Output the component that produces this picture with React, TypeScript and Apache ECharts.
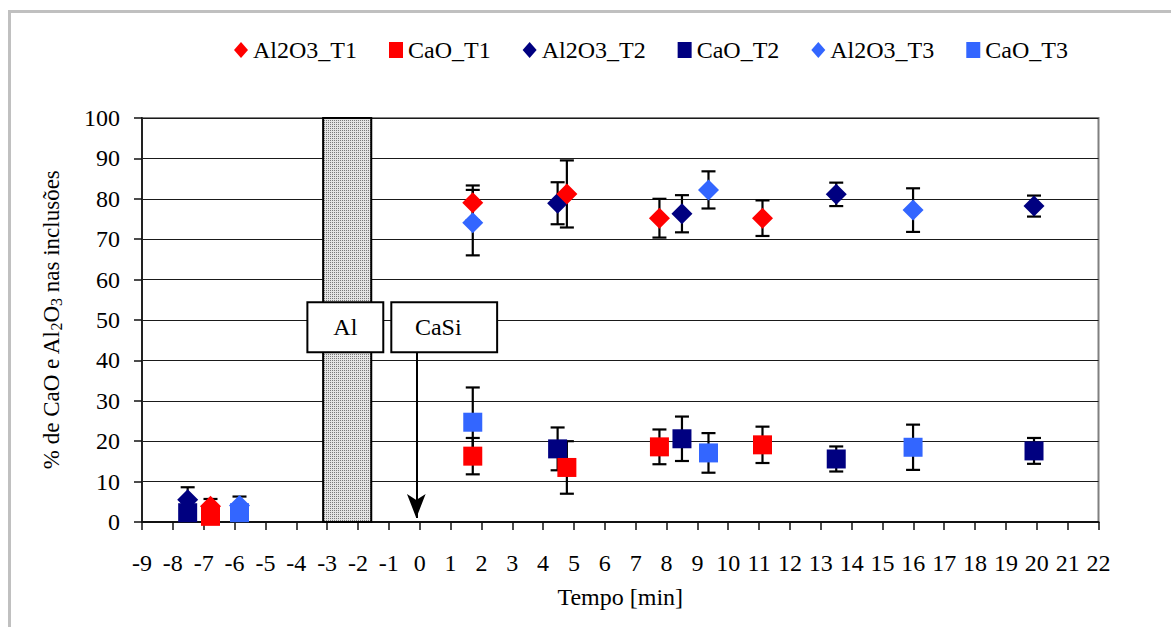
import React, { useEffect, useRef } from 'react';
import * as echarts from 'echarts';

// ---- data ----
const xT1 = [-6.78, 1.72, 4.77, 7.77, 11.11];
const al2o3T1 = [3.9, 79.0, 81.2, 75.2, 75.2];
const al2o3T1Err = [1.8, 4.3, 8.3, 4.8, 4.4];
const caoT1 = [1.4, 16.3, 13.5, 18.6, 19.1];
const caoT1Err = [1.0, 4.5, 6.5, 4.3, 4.5];

const xT2 = [-7.52, 4.47, 8.5, 13.5, 19.91];
const al2o3T2 = [5.5, 78.9, 76.3, 81.1, 78.2];
const al2o3T2Err = [3.1, 5.2, 4.6, 2.9, 2.6];
const caoT2 = [2.3, 18.1, 20.6, 15.6, 17.6];
const caoT2Err = [1.5, 5.3, 5.5, 3.1, 3.2];

const xT3 = [-5.84, 1.72, 9.36, 15.99];
const al2o3T3 = [4.1, 74.1, 82.2, 77.2];
const al2o3T3Err = [2.2, 8.1, 4.6, 5.4];
const caoT3 = [2.3, 24.7, 17.1, 18.5];
const caoT3Err = [1.5, 8.6, 4.9, 5.6];

// annotations (data coordinates)
const alBarX = [-3.13, -1.57];
const alBoxX = [-3.64, -1.18];
const casiBoxX = [-0.92, 2.51];
const boxY = [42.0, 54.4];
const arrowX = -0.11;
const arrowY = [42.0, 1.0];

const FONT = "'Liberation Serif', 'Times New Roman', serif";
const FS = 24;
const RED = '#FF0000';
const NAVY = '#000080';
const BLUE = '#3366FF';

export default function App() {
  const ref = useRef<HTMLDivElement>(null);

  useEffect(() => {
    const chart = echarts.init(ref.current!, null, { renderer: 'svg' });

    const tile = document.createElement('canvas');
    tile.width = 2;
    tile.height = 2;
    const g = tile.getContext('2d')!;
    g.fillStyle = '#e4e4e4';
    g.fillRect(0, 0, 2, 2);
    g.fillStyle = '#7a7a7a';
    g.fillRect(0, 0, 1, 1);

    const pts = (xs: number[], ys: number[]) => xs.map((x, i) => [x, ys[i]]);
    const errs = (xs: number[], ys: number[], es: number[]) =>
      xs.map((x, i) => [x, ys[i] - es[i], ys[i] + es[i]]);

    const errData = [
      ...errs(xT1, al2o3T1, al2o3T1Err),
      ...errs(xT1, caoT1, caoT1Err),
      ...errs(xT2, al2o3T2, al2o3T2Err),
      ...errs(xT2, caoT2, caoT2Err),
      ...errs(xT3, al2o3T3, al2o3T3Err),
      ...errs(xT3, caoT3, caoT3Err),
    ];

    const scatter = (name: string, xs: number[], ys: number[], color: string, diamond: boolean, z: number) => ({
      name,
      type: 'scatter',
      data: pts(xs, ys),
      symbol: diamond ? 'diamond' : 'rect',
      symbolSize: diamond ? 21 : 19,
      itemStyle: { color, opacity: 1 },
      z,
      clip: false,
    });

    const option: any = {
      animation: false,
      backgroundColor: '#ffffff',
      textStyle: { fontFamily: FONT, color: '#000' },
      graphic: [
        {
          type: 'rect',
          silent: true,
          z: -10,
          shape: { x: 9.5, y: 11.5, width: 1300, height: 800 },
          style: { fill: 'none', stroke: '#c0c0c0', lineWidth: 3 },
        },
      ],
      legend: {
        left: 229,
        top: 33,
        itemWidth: 14,
        itemHeight: 16,
        itemGap: 32,
        textStyle: { fontFamily: FONT, fontSize: FS, color: '#000' },
        data: [
          { name: 'Al2O3_T1', icon: 'diamond' },
          { name: 'CaO_T1', icon: 'rect' },
          { name: 'Al2O3_T2', icon: 'diamond' },
          { name: 'CaO_T2', icon: 'rect' },
          { name: 'Al2O3_T3', icon: 'diamond' },
          { name: 'CaO_T3', icon: 'rect' },
        ],
      },
      grid: {
        left: 142,
        right: 72.5,
        top: 118,
        bottom: 105,
        show: true,
        borderColor: '#808080',
        borderWidth: 2,
        backgroundColor: 'transparent',
      },
      xAxis: {
        type: 'value',
        min: -9,
        max: 22,
        interval: 1,
        name: 'Tempo [min]',
        nameLocation: 'middle',
        nameGap: 63,
        nameTextStyle: { fontFamily: FONT, fontSize: FS, color: '#000' },
        axisLine: { onZero: false, lineStyle: { color: '#111', width: 2 } },
        axisTick: { show: true, inside: false, length: 8, lineStyle: { color: '#111', width: 1.5 } },
        axisLabel: { fontFamily: FONT, fontSize: FS, color: '#000', margin: 29 },
        splitLine: { show: false },
      },
      yAxis: {
        type: 'value',
        min: 0,
        max: 100,
        interval: 10,
        name: '% de CaO e Al{s|2}O{s|3} nas inclusões',
        nameLocation: 'middle',
        nameGap: 78,
        nameTextStyle: {
          fontFamily: FONT,
          fontSize: 23,
          color: '#000',
          lineHeight: 25,
          rich: {
            s: { fontFamily: FONT, fontSize: 16, color: '#000', verticalAlign: 'bottom', lineHeight: 13 },
          },
        },
        axisLine: { show: true, onZero: false, lineStyle: { color: '#222', width: 2 } },
        axisTick: { show: true, inside: false, length: 8, lineStyle: { color: '#111', width: 1.5 } },
        axisLabel: { fontFamily: FONT, fontSize: FS, color: '#000', margin: 22 },
        splitLine: { show: true, lineStyle: { color: '#1a1a1a', width: 1 } },
      },
      series: [
        {
          name: 'annotations',
          type: 'scatter',
          data: [],
          z: 1,
          markArea: {
            silent: true,
            data: [
              [
                {
                  name: '',
                  coord: [alBarX[0], 0],
                  itemStyle: { color: { image: tile, repeat: 'repeat' }, borderColor: '#000', borderWidth: 2, opacity: 1 },
                  label: { show: false },
                },
                { coord: [alBarX[1], 100] },
              ],
              [
                {
                  name: 'Al',
                  coord: [alBoxX[0], boxY[0]],
                  itemStyle: { color: '#fff', borderColor: '#000', borderWidth: 2, opacity: 1 },
                  label: { show: true, position: 'inside', fontFamily: FONT, fontSize: FS, color: '#000' },
                },
                { coord: [alBoxX[1], boxY[1]] },
              ],
              [
                {
                  name: 'CaSi',
                  coord: [casiBoxX[0], boxY[0]],
                  itemStyle: { color: '#fff', borderColor: '#000', borderWidth: 2, opacity: 1 },
                  label: { show: true, position: 'inside', fontFamily: FONT, fontSize: FS, color: '#000', offset: [-6, 0] },
                },
                { coord: [casiBoxX[1], boxY[1]] },
              ],
            ],
          },
          markLine: {
            silent: true,
            symbol: ['none', 'arrow'],
            symbolSize: [14, 24],
            label: { show: false },
            lineStyle: { color: '#000', width: 2, type: 'solid' },
            data: [[{ coord: [arrowX, arrowY[0]] }, { coord: [arrowX, arrowY[1]] }]],
          },
        },
        {
          name: 'errors',
          type: 'custom',
          z: 2,
          data: errData,
          renderItem: (params: any, api: any) => {
            const x = api.value(0);
            const lo = api.coord([x, api.value(1)]);
            const hi = api.coord([x, api.value(2)]);
            const cap = 7;
            const st = { stroke: '#000', lineWidth: 2.2 };
            return {
              type: 'group',
              children: [
                { type: 'line', shape: { x1: lo[0], y1: lo[1], x2: hi[0], y2: hi[1] }, style: st },
                { type: 'line', shape: { x1: lo[0] - cap, y1: lo[1], x2: lo[0] + cap, y2: lo[1] }, style: st },
                { type: 'line', shape: { x1: hi[0] - cap, y1: hi[1], x2: hi[0] + cap, y2: hi[1] }, style: st },
              ],
            };
          },
        },
        scatter('Al2O3_T2', xT2, al2o3T2, NAVY, true, 3),
        scatter('CaO_T2', xT2, caoT2, NAVY, false, 3),
        scatter('Al2O3_T3', xT3, al2o3T3, BLUE, true, 4),
        scatter('CaO_T3', xT3, caoT3, BLUE, false, 4),
        scatter('Al2O3_T1', xT1, al2o3T1, RED, true, 5),
        scatter('CaO_T1', xT1, caoT1, RED, false, 5),
      ],
    };

    chart.setOption(option);
    return () => chart.dispose();
  }, []);

  return (
    <div
      ref={ref}
      style={{ position: 'fixed', left: 0, top: 0, width: 1171, height: 627, background: '#fff' }}
    />
  );
}
